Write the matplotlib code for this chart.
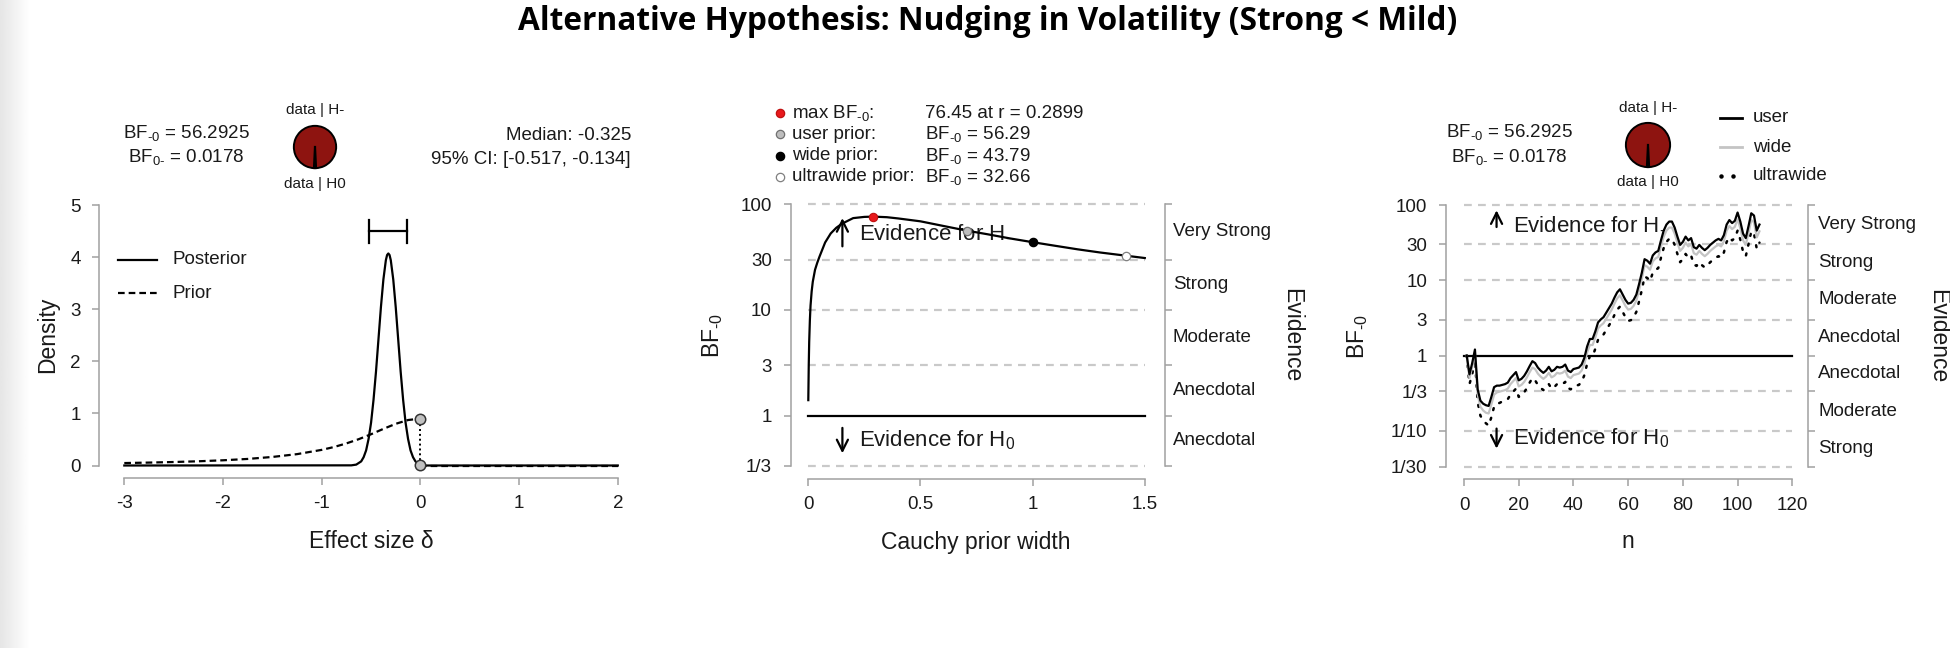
import numpy as np
import matplotlib
matplotlib.use("Agg")
from matplotlib import pyplot as plt
from matplotlib.ticker import NullLocator

plt.rcParams['font.family'] = ['Liberation Sans', 'DejaVu Sans']
plt.rcParams['mathtext.fontset'] = 'custom'
plt.rcParams['mathtext.rm'] = 'Liberation Sans'
plt.rcParams['mathtext.it'] = 'Liberation Sans:italic'
plt.rcParams['mathtext.bf'] = 'Liberation Sans:bold'
plt.rcParams['mathtext.default'] = 'regular'
plt.rcParams['axes.unicode_minus'] = False

title = "Alternative Hypothesis: Nudging in Volatility (Strong < Mild)"
BFM0 = r'BF$_{\text{-}0}$'
BF0M = r'BF$_{0\text{-}}$'

# ---- prior / posterior panel ----
bf_minus0 = "56.2925"
bf_0minus = "0.0178"
median_txt = "-0.325"
ci = [-0.517, -0.134]
post_x = [-3, -0.7, -0.65, -0.6, -0.575, -0.55, -0.525, -0.5, -0.475, -0.45, -0.425, -0.4,
          -0.375, -0.35, -0.3375, -0.325, -0.3125, -0.3, -0.275, -0.25, -0.225, -0.2, -0.175,
          -0.15, -0.125, -0.1, -0.075, -0.05, -0.025, 0, 0, 2]
post_y = [0, 0.003, 0.017, 0.079, 0.16, 0.29, 0.51, 0.82, 1.26, 1.80, 2.42, 3.04,
          3.57, 3.94, 4.04, 4.07, 4.04, 3.94, 3.57, 3.04, 2.42, 1.80, 1.26,
          0.82, 0.51, 0.29, 0.16, 0.079, 0.04, 0.016, 0, 0]
prior_x = [-3, -2.75, -2.5, -2.25, -2, -1.75, -1.5, -1.25, -1, -0.875, -0.75, -0.625,
           -0.5, -0.375, -0.25, -0.125, 0]
prior_y = [0.047, 0.056, 0.067, 0.081, 0.100, 0.126, 0.164, 0.218, 0.300, 0.355, 0.424, 0.505,
           0.600, 0.703, 0.800, 0.873, 0.900]
prior_at_0 = 0.900
post_at_0 = 0.016

# ---- robustness panel ----
r_width = [0.0, 0.002, 0.004, 0.007, 0.01, 0.015, 0.02, 0.03, 0.04, 0.05, 0.075, 0.1, 0.125,
           0.15, 0.2, 0.25, 0.2899, 0.35, 0.4, 0.5, 0.6, 0.707, 0.8, 0.9, 1.0, 1.1, 1.2, 1.3,
           1.414, 1.5]
r_bf = [1.4, 3.0, 5.0, 8.0, 11, 15, 18.5, 24, 28, 32, 43.5, 53, 60,
        65.5, 74, 76, 76.45, 75.5, 73.5, 69, 62.5, 56.29, 52, 47.5, 43.79, 40.5, 37.5, 35,
        32.66, 31]
max_r = 0.2899
max_bf = 76.45
prior_r = [0.7071, 1.0, 1.4142]
prior_bf = [56.29, 43.79, 32.66]
legend_names = ["max " + BFM0 + ":", "user prior:", "wide prior:", "ultrawide prior:"]
legend_values = ["76.45 at r = 0.2899", BFM0 + " = 56.29", BFM0 + " = 43.79",
                 BFM0 + " = 32.66"]

# ---- sequential panel (log10 BF) ----
n_obs = list(range(1, 109))
log_bf_user = [
    0.0, -0.25, -0.10, 0.08, -0.45, -0.60, -0.64, -0.66, -0.67, -0.55,
    -0.42, -0.40, -0.40, -0.39, -0.38, -0.36, -0.30, -0.26, -0.22, -0.33,
    -0.31, -0.27, -0.21, -0.14, -0.075, -0.10, -0.16, -0.20, -0.23, -0.20,
    -0.15, -0.21, -0.19, -0.15, -0.16, -0.15, -0.12, -0.20, -0.22, -0.18,
    -0.17, -0.16, -0.12, -0.03, 0.12, 0.22, 0.22, 0.32, 0.44, 0.48,
    0.51, 0.57, 0.63, 0.69, 0.77, 0.84, 0.88, 0.81, 0.74, 0.69,
    0.70, 0.74, 0.81, 0.95, 1.10, 1.28, 1.26, 1.22, 1.33, 1.37,
    1.39, 1.53, 1.66, 1.74, 1.78, 1.78, 1.70, 1.58, 1.47, 1.51,
    1.58, 1.53, 1.56, 1.44, 1.42, 1.47, 1.43, 1.40, 1.43, 1.47,
    1.50, 1.53, 1.55, 1.53, 1.60, 1.74, 1.80, 1.76, 1.79, 1.90,
    1.78, 1.62, 1.56, 1.72, 1.89, 1.86, 1.66, 1.74]
log_bf_wide = [
    0.0, -0.30, -0.15, 0.03, -0.52, -0.68, -0.73, -0.76, -0.77, -0.65,
    -0.52, -0.49, -0.48, -0.47, -0.46, -0.44, -0.38, -0.34, -0.30, -0.41,
    -0.39, -0.35, -0.29, -0.22, -0.16, -0.18, -0.24, -0.28, -0.31, -0.28,
    -0.23, -0.29, -0.27, -0.23, -0.24, -0.23, -0.20, -0.28, -0.30, -0.26,
    -0.25, -0.24, -0.20, -0.11, 0.04, 0.14, 0.14, 0.24, 0.36, 0.40,
    0.43, 0.49, 0.55, 0.61, 0.69, 0.76, 0.80, 0.73, 0.66, 0.61,
    0.62, 0.66, 0.73, 0.87, 1.02, 1.20, 1.18, 1.14, 1.25, 1.29,
    1.31, 1.45, 1.58, 1.66, 1.70, 1.70, 1.62, 1.50, 1.39, 1.43,
    1.50, 1.45, 1.48, 1.36, 1.34, 1.39, 1.35, 1.32, 1.35, 1.39,
    1.42, 1.45, 1.47, 1.45, 1.52, 1.66, 1.72, 1.68, 1.71, 1.81,
    1.69, 1.53, 1.47, 1.63, 1.80, 1.77, 1.57, 1.65]
log_bf_ultra = [
    0.0, -0.38, -0.25, -0.05, -0.62, -0.80, -0.86, -0.90, -0.93, -0.82,
    -0.68, -0.64, -0.63, -0.61, -0.60, -0.58, -0.52, -0.48, -0.44, -0.55,
    -0.53, -0.49, -0.43, -0.36, -0.30, -0.33, -0.39, -0.43, -0.46, -0.43,
    -0.38, -0.44, -0.42, -0.38, -0.39, -0.38, -0.35, -0.43, -0.45, -0.41,
    -0.40, -0.39, -0.35, -0.26, -0.11, -0.01, -0.01, 0.09, 0.21, 0.25,
    0.28, 0.34, 0.40, 0.46, 0.54, 0.61, 0.65, 0.58, 0.51, 0.46,
    0.47, 0.51, 0.58, 0.72, 0.87, 1.05, 1.03, 0.99, 1.10, 1.14,
    1.16, 1.30, 1.43, 1.51, 1.55, 1.55, 1.47, 1.35, 1.24, 1.28,
    1.35, 1.30, 1.33, 1.21, 1.19, 1.24, 1.20, 1.17, 1.20, 1.24,
    1.27, 1.30, 1.32, 1.30, 1.37, 1.51, 1.57, 1.53, 1.56, 1.66,
    1.54, 1.38, 1.32, 1.48, 1.65, 1.62, 1.42, 1.50]

W, H = 1950, 648
fig = plt.figure(figsize=(W / 100, H / 100), dpi=100)

AXIS_GRAY = '#a0a0a0'
GRID_GRAY = '#c9c9c9'
TXT = '#1a1a1a'
TICK_FS = 13.5
LABEL_FS = 16.5
TOP_FS = 13.5


def fx(px):
    return px / W


def fy(py):
    return 1 - py / H


def make_axes(x0, x1, ytop, ybot):
    ax = fig.add_axes([fx(x0), fy(ybot), (x1 - x0) / W, (ybot - ytop) / H])
    ax.patch.set_alpha(0)
    for s in ax.spines.values():
        s.set_color(AXIS_GRAY)
        s.set_linewidth(1.1)
    ax.spines['top'].set_visible(False)
    ax.spines['right'].set_visible(False)
    ax.tick_params(direction='out', length=5, width=1.1, color=AXIS_GRAY,
                   labelsize=TICK_FS, labelcolor=TXT)
    ax.tick_params(axis='x', pad=7.5)
    ax.tick_params(axis='y', pad=8.5)
    return ax


def evidence_scale(ax, levels, names, right_off, label_off):
    ax.spines['right'].set_visible(True)
    ax.spines['right'].set_position(('outward', right_off))
    ax.spines['right'].set_bounds(levels[0], levels[-1])
    ax.tick_params(axis='y', right=True, labelright=False)
    for lo, hi, name in zip(levels[:-1], levels[1:], names):
        ax.annotate(name, xy=(1, np.sqrt(lo * hi)), xycoords=('axes fraction', 'data'),
                    xytext=(right_off + label_off, 0), textcoords='offset points',
                    ha='left', va='center', fontsize=TICK_FS, color=TXT)


def evidence_arrows(ax, x_arrow, x_text, up, down):
    arrow = dict(arrowstyle='->', lw=1.6, color='black', mutation_scale=20,
                 shrinkA=0, shrinkB=0)
    ax.annotate('', xy=(x_arrow, up[0]), xytext=(x_arrow, up[1]), arrowprops=arrow)
    ax.text(x_text, up[2], r'Evidence for H$_{\text{-}}$', fontsize=16, ha='left', va='center',
            color=TXT)
    ax.annotate('', xy=(x_arrow, down[0]), xytext=(x_arrow, down[1]), arrowprops=arrow)
    ax.text(x_text, down[2], 'Evidence for H$_{0}$', fontsize=16, ha='left', va='center', color=TXT)


# ---------------- left: prior and posterior ----------------
ax1 = make_axes(124.3, 617.8, 205, 465.5)
ax1.set_xlim(-3, 2)
ax1.set_ylim(0, 5)
ax1.spines['left'].set_position(('outward', 18))
ax1.spines['bottom'].set_position(('outward', 9))
ax1.spines['left'].set_bounds(0, 5)
ax1.spines['bottom'].set_bounds(-3, 2)
ax1.set_xticks([-3, -2, -1, 0, 1, 2])
ax1.set_yticks([0, 1, 2, 3, 4, 5])
ax1.plot(post_x, post_y, color='black', lw=1.6, clip_on=False, zorder=3)
ax1.plot(prior_x, prior_y, color='black', lw=1.6, ls=(0, (3, 1.8)), clip_on=False, zorder=3)
ax1.plot([0, 2], [0, 0], color='black', lw=1.6, ls=(0, (3, 1.8)), clip_on=False, zorder=3)
ax1.plot([0, 0], [post_at_0, prior_at_0], color='black', lw=1.4, ls=(0, (1, 1.5)), zorder=4)
ax1.plot([0, 0], [prior_at_0, post_at_0], ls='none', marker='o', ms=7.5, mfc='#c0c0c0',
         mec='#333333', mew=1.1, clip_on=False, zorder=5)
ax1.plot(ci, [4.5, 4.5], color='black', lw=1.6)
for c in ci:
    ax1.plot([c, c], [4.28, 4.72], color='black', lw=1.6)

# ---------------- middle: robustness ----------------
ax2 = make_axes(808.3, 1144.8, 204.3, 466)
ax2.set_yscale('log')
ax2.set_xlim(0, 1.5)
ax2.set_ylim(1 / 3, 100)
mid_levels = [1 / 3, 1, 3, 10, 30, 100]
ax2.set_yticks(mid_levels)
ax2.set_yticklabels(['1/3', '1', '3', '10', '30', '100'])
ax2.yaxis.set_minor_locator(NullLocator())
ax2.set_xticks([0, 0.5, 1, 1.5])
ax2.set_xticklabels(['0', '0.5', '1', '1.5'])
ax2.spines['left'].set_position(('outward', 12.8))
ax2.spines['bottom'].set_position(('outward', 9))
ax2.spines['left'].set_bounds(1 / 3, 100)
ax2.spines['bottom'].set_bounds(0, 1.5)
for lv in mid_levels:
    if lv == 1:
        ax2.plot([0, 1.5], [lv, lv], color='black', lw=1.6, clip_on=False, zorder=2)
    else:
        ax2.plot([0, 1.5], [lv, lv], color=GRID_GRAY, lw=1.6, ls=(0, (3.5, 2.8)),
                 clip_on=False, zorder=1)
evidence_scale(ax2, mid_levels, ['Anecdotal', 'Anecdotal', 'Moderate', 'Strong', 'Very Strong'],
               14.3, 6)
evidence_arrows(ax2, 0.152, 0.226, (74, 40, 55), (0.44, 0.765, 0.59))
ax2.plot(r_width, r_bf, color='black', lw=1.6, clip_on=False, zorder=3)
ax2.plot([max_r], [max_bf], ls='none', marker='o', ms=6, mfc='#e8191c', mec='#c01010',
         mew=0.8, zorder=5, clip_on=False)
prior_face = ['#bdbdbd', 'black', 'white']
prior_edge = ['#707070', 'black', '#808080']
for rr, bb, fc, ec in zip(prior_r, prior_bf, prior_face, prior_edge):
    ax2.plot([rr], [bb], ls='none', marker='o', ms=6, mfc=fc, mec=ec, mew=0.9, zorder=5)

# ---------------- right: sequential ----------------
ax3 = make_axes(1464, 1792.3, 205, 466.7)
ax3.set_yscale('log')
ax3.set_xlim(0, 120)
ax3.set_ylim(1 / 30, 100)
seq_levels = [1 / 30, 1 / 10, 1 / 3, 1, 3, 10, 30, 100]
ax3.set_yticks(seq_levels)
ax3.set_yticklabels(['1/30', '1/10', '1/3', '1', '3', '10', '30', '100'])
ax3.yaxis.set_minor_locator(NullLocator())
ax3.set_xticks([0, 20, 40, 60, 80, 100, 120])
ax3.spines['left'].set_position(('outward', 13))
ax3.spines['bottom'].set_position(('outward', 9))
ax3.spines['left'].set_bounds(1 / 30, 100)
ax3.spines['bottom'].set_bounds(0, 120)
for lv in seq_levels:
    if lv == 1:
        ax3.plot([0, 120], [lv, lv], color='black', lw=1.6, clip_on=False, zorder=2)
    else:
        ax3.plot([0, 120], [lv, lv], color=GRID_GRAY, lw=1.6, ls=(0, (3.5, 2.8)),
                 clip_on=False, zorder=1)
evidence_scale(ax3, seq_levels, ['Strong', 'Moderate', 'Anecdotal', 'Anecdotal', 'Moderate',
                                 'Strong', 'Very Strong'], 11.3, 7.5)
evidence_arrows(ax3, 11.9, 18, (85, 51, 57), (0.058, 0.107, 0.079))
n_arr = np.array(n_obs)
ax3.plot(n_arr, 10 ** np.array(log_bf_ultra), color='black', lw=1.8, ls=(0, (0.8, 3.2)),
         dash_capstyle='round', zorder=3)
ax3.plot(n_arr, 10 ** np.array(log_bf_wide), color='#c4c4c4', lw=1.6, zorder=3)
ax3.plot(n_arr, 10 ** np.array(log_bf_user), color='black', lw=1.6, zorder=4)

# ---------------- overlay: titles, annotations, legends ----------------
ov = fig.add_axes([0, 0, 1, 1])
ov.axis('off')

# soft shadow on the left edge of the screenshot
shade = np.linspace(0.90, 1.0, 40).reshape(1, -1)
ov.imshow(shade, cmap='gray', vmin=0, vmax=1, extent=(0, 30, H, 0), aspect='auto', zorder=0)
ov.set_xlim(0, W)
ov.set_ylim(H, 0)

ov.text(988, 21, title, fontsize=22.8, fontweight='bold', family=['Open Sans', 'DejaVu Sans'],
        ha='center', va='center', color='black')

# axis titles
ov.text(371, 542, 'Effect size δ', fontsize=LABEL_FS, ha='center', va='center', color=TXT)
ov.text(976, 542, 'Cauchy prior width', fontsize=LABEL_FS, ha='center', va='center', color=TXT)
ov.text(1628, 542, 'n', fontsize=LABEL_FS, ha='center', va='center', color=TXT)
ov.text(48, 335, 'Density', fontsize=LABEL_FS, rotation=90, ha='center', va='center', color=TXT)
ov.text(713, 335, BFM0, fontsize=LABEL_FS, rotation=90, ha='center', va='center', color=TXT)
ov.text(1358, 336, BFM0, fontsize=LABEL_FS, rotation=90, ha='center', va='center', color=TXT)
ov.text(1292, 335, 'Evidence', fontsize=LABEL_FS, rotation=-90, ha='center', va='center', color=TXT)
ov.text(1938, 336, 'Evidence', fontsize=LABEL_FS, rotation=-90, ha='center', va='center', color=TXT)


def bf_pie(cx, cy, rad, bf):
    pax = fig.add_axes([fx(cx - rad), fy(cy + rad), 2 * rad / W, 2 * rad / H])
    p0 = 1 / (1 + float(bf))
    pax.pie([p0, 1 - p0], colors=['white', '#8e1410'], startangle=270 - p0 * 180,
            counterclock=True, wedgeprops=dict(edgecolor='black', linewidth=1.4))
    pax.set_xlim(-1.04, 1.04)
    pax.set_ylim(-1.04, 1.04)
    pax.set_aspect('auto')
    pax.plot([0, 0], [0, -1], color='black', lw=1.6)
    ov.text(cx, cy - 37, 'data | H-', fontsize=11, ha='center', va='center', color=TXT)
    ov.text(cx, cy + 37, 'data | H0', fontsize=11, ha='center', va='center', color=TXT)


# left panel header
ov.text(186, 133, BFM0 + ' = ' + bf_minus0, fontsize=TOP_FS, ha='center', va='center', color=TXT)
ov.text(186, 157, BF0M + ' = ' + bf_0minus, fontsize=TOP_FS, ha='center', va='center', color=TXT)
bf_pie(315, 147, 22, bf_minus0)
ov.text(631, 135, 'Median: ' + median_txt, fontsize=TOP_FS, ha='right', va='center', color=TXT)
ov.text(631, 159, f'95% CI: [{ci[0]:.3f}, {ci[1]:.3f}]', fontsize=TOP_FS, ha='right',
        va='center', color=TXT)
ov.plot([118, 157], [260, 260], color='black', lw=1.6)
ov.plot([118, 157], [293, 293], color='black', lw=1.6, ls=(0, (3, 1.8)))
ov.text(173, 260, 'Posterior', fontsize=TOP_FS, ha='left', va='center', color=TXT)
ov.text(173, 293, 'Prior', fontsize=TOP_FS, ha='left', va='center', color=TXT)

# middle panel header
leg_face = ['#e8191c', '#bdbdbd', 'black', 'white']
leg_edge = ['#c01010', '#707070', 'black', '#808080']
for i, (name, val) in enumerate(zip(legend_names, legend_values)):
    yy = 113 + i * 21.3
    ov.plot([780], [yy], ls='none', marker='o', ms=6, mfc=leg_face[i], mec=leg_edge[i], mew=0.9)
    ov.text(792, yy, name, fontsize=TOP_FS, ha='left', va='center', color=TXT)
    ov.text(925, yy, val, fontsize=TOP_FS, ha='left', va='center', color=TXT)

# right panel header
ov.text(1509, 132, BFM0 + ' = ' + bf_minus0, fontsize=TOP_FS, ha='center', va='center', color=TXT)
ov.text(1509, 157, BF0M + ' = ' + bf_0minus, fontsize=TOP_FS, ha='center', va='center', color=TXT)
bf_pie(1648, 145, 23, bf_minus0)
ov.plot([1720, 1742], [118, 118], color='black', lw=2)
ov.plot([1720, 1742], [147, 147], color='#c4c4c4', lw=2)
ov.plot([1721, 1733], [176, 176], ls='none', marker='o', ms=2.2, color='black')
ov.text(1753, 118, 'user', fontsize=TOP_FS, ha='left', va='center', color=TXT)
ov.text(1753, 147, 'wide', fontsize=TOP_FS, ha='left', va='center', color=TXT)
ov.text(1753, 176, 'ultrawide', fontsize=TOP_FS, ha='left', va='center', color=TXT)

fig.savefig('out.png', dpi=100)
